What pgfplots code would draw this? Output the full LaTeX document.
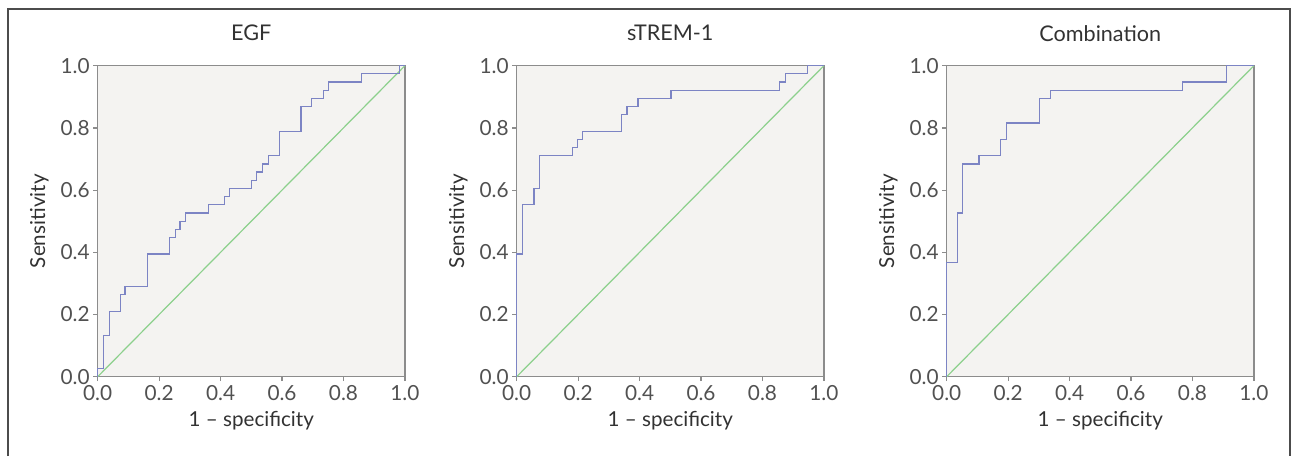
\documentclass[border=0pt]{standalone}
\usepackage{fontspec}
\setmainfont{Lato}
\usepackage{pgfplots}
\pgfplotsset{compat=1.18}
\definecolor{rocblue}{RGB}{124,132,196}
\definecolor{refgreen}{RGB}{140,208,140}
\definecolor{panelbg}{RGB}{244,243,241}
\definecolor{boxgrey}{RGB}{140,140,140}
\definecolor{txt}{RGB}{50,50,50}
\pgfplotsset{
  rocaxis/.style={
    scale only axis, width=153.6pt, height=155.5pt,
    xmin=0, xmax=1, ymin=0, ymax=1,
    xtick={0,0.2,...,1.0}, ytick={0,0.2,...,1.0},
    /pgf/number format/fixed, /pgf/number format/fixed zerofill,
    /pgf/number format/precision=1,
    /pgf/number format/assume math mode=true,
    tick align=outside, major tick length=2.2pt,
    xtick pos=bottom, ytick pos=left,
    axis line style={boxgrey, line width=0.6pt},
    every tick/.style={boxgrey, line width=0.6pt},
    axis background/.style={fill=panelbg},
    tick label style={font=\fontsize{10.4}{11}\selectfont, text=txt!85},
    label style={font=\fontsize{10.3}{11}\selectfont, text=txt},
    title style={font=\fontsize{10.8}{12}\selectfont, text=txt, at={(axis description cs:0.5,1.066)}, anchor=center},
    xticklabel style={inner sep=2pt},
    yticklabel style={inner sep=1.6pt},
    xlabel={1 -- specificity}, ylabel={Sensitivity},
    xlabel style={at={(axis description cs:0.5,-0.14)}, anchor=center},
    ylabel style={at={(axis description cs:-0.19,0.5)}, anchor=center},
    clip=false,
  },
  roc/.style={rocblue, line width=0.6pt, const plot, mark=none},
  diag/.style={refgreen, line width=0.6pt, mark=none},
}
\begin{document}
\begin{tikzpicture}
\useasboundingbox (0pt,0pt) rectangle (646pt,228pt);
\draw[black!70, line width=0.9pt] (4pt,0pt) -- (4pt,223.5pt) -- (645pt,223.5pt) -- (645pt,0pt);
% EGF
\begin{axis}[rocaxis, at={(48.85pt,39.65pt)}, anchor=south west, title={EGF}]
\addplot[diag] coordinates {(0,0) (1,1)};
\addplot[roc] coordinates {(0,0) (0,0.0263) (0.018,0.1316) (0.038,0.2105) (0.074,0.2632)
 (0.089,0.2895) (0.163,0.3947) (0.233,0.4474) (0.252,0.4737) (0.268,0.5) (0.285,0.5263)
 (0.36,0.5526) (0.412,0.5789) (0.428,0.6053) (0.5,0.6316) (0.517,0.6579) (0.537,0.6842)
 (0.555,0.7105) (0.591,0.7895) (0.662,0.8684) (0.696,0.8947) (0.734,0.9211) (0.751,0.9474)
 (0.859,0.9737) (0.982,1) (1,1)};
\end{axis}
% sTREM-1
\begin{axis}[rocaxis, at={(258.35pt,39.65pt)}, anchor=south west, title={sTREM-1}]
\addplot[diag] coordinates {(0,0) (1,1)};
\addplot[roc] coordinates {(0,0) (0,0.3947) (0.019,0.5526) (0.056,0.6053) (0.075,0.7105)
 (0.181,0.7368) (0.199,0.7632) (0.215,0.7895) (0.34,0.8421) (0.359,0.8684) (0.395,0.8947)
 (0.502,0.9211) (0.855,0.9474) (0.874,0.9737) (0.947,1) (1,1)};
\end{axis}
% Combination
\begin{axis}[rocaxis, at={(473.35pt,39.65pt)}, anchor=south west, title={Combination}]
\addplot[diag] coordinates {(0,0) (1,1)};
\addplot[roc] coordinates {(0,0) (0,0.3684) (0.034,0.5263) (0.051,0.6842) (0.105,0.7105)
 (0.176,0.7632) (0.195,0.8158) (0.303,0.8947) (0.338,0.9211) (0.767,0.9474) (0.911,1) (1,1)};
\end{axis}
\end{tikzpicture}
\end{document}
